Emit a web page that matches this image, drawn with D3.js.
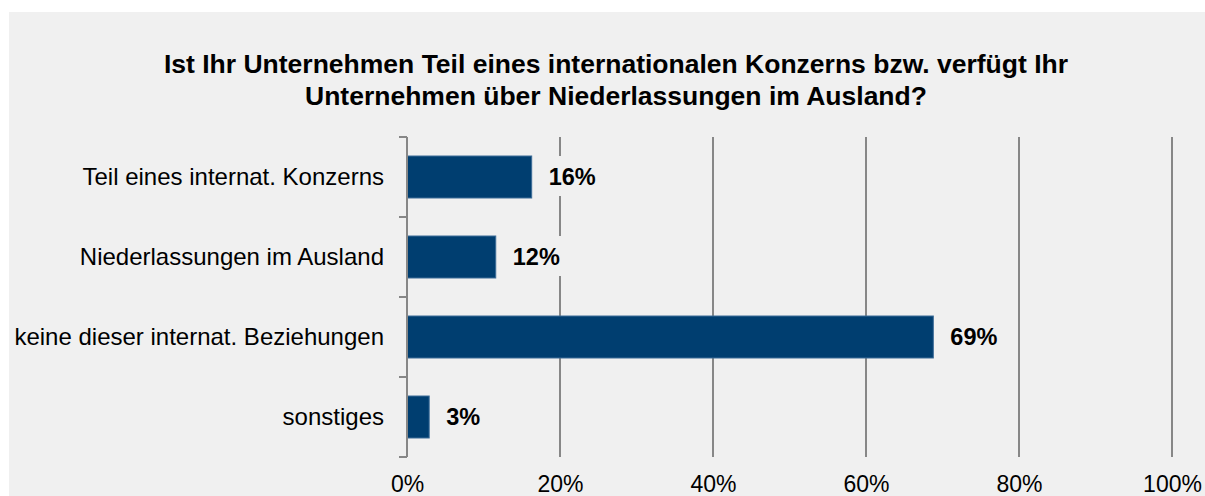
<!DOCTYPE html>
<html>
<head>
<meta charset="utf-8">
<script src="https://cdn.jsdelivr.net/npm/d3@7"></script>
<style>
  body { margin: 0; background: #ffffff; }
  text { font-family: "Liberation Sans", Arial, sans-serif; }
</style>
</head>
<body>
<div class="chart"></div>
<script>
var categories = ['Teil eines internat. Konzerns', 'Niederlassungen im Ausland', 'keine dieser internat. Beziehungen', 'sonstiges'];
var values = [16.3, 11.6, 68.8, 2.9];
var valueLabels = ['16%', '12%', '69%', '3%'];
var tickValues = [0, 20, 40, 60, 80, 100];
var tickLabels = ['0%', '20%', '40%', '60%', '80%', '100%'];
var titleLines = ['Ist Ihr Unternehmen Teil eines internationalen Konzerns bzw. verfügt Ihr', 'Unternehmen über Niederlassungen im Ausland?'];

// Width and height
var w = 1205;
var h = 496;
var plotLeft = 407, plotRight = 1172, plotTop = 137, plotBottom = 457;

var svg = d3.select(".chart")
  .append("svg")
    .attr("width", w)
    .attr("height", h);

// grey panel
svg.append("rect")
  .attr("x", 9)
  .attr("y", 12)
  .attr("width", w - 9)
  .attr("height", h - 12)
  .attr("fill", "#f0f0f0");

var xScale = d3.scaleLinear()
  .domain([0, 100])
  .range([plotLeft, plotRight]);

var yScale = d3.scaleBand()
  .domain(categories)
  .range([plotTop, plotBottom])
  .paddingInner(0.475)
  .paddingOuter(0.2375);

// title
svg.append("text")
  .attr("text-anchor", "middle")
  .attr("font-size", "26.5px")
  .attr("font-weight", "bold")
  .attr("fill", "#000")
  .selectAll("tspan")
  .data(titleLines)
  .enter()
  .append("tspan")
    .attr("x", 616)
    .attr("y", function (d, i) { return 73 + i * 32; })
    .text(function (d) { return d; });

// vertical gridlines
svg.append("g")
  .selectAll("line")
  .data(tickValues.slice(1))
  .enter()
  .append("line")
    .attr("x1", function (d) { return xScale(d); })
    .attr("x2", function (d) { return xScale(d); })
    .attr("y1", plotTop)
    .attr("y2", plotBottom)
    .attr("stroke", "#878787")
    .attr("stroke-width", 2);

// x tick labels
var xAxis = d3.axisBottom(xScale)
  .tickValues(tickValues)
  .tickFormat(function (d, i) { return tickLabels[i]; })
  .tickSize(0)
  .tickPadding(19);

var gx = svg.append("g")
  .attr("class", "axis axis--x")
  .attr("transform", "translate(0," + plotBottom + ")")
  .call(xAxis);
gx.select(".domain").remove();
gx.selectAll("text")
  .attr("font-family", "Liberation Sans, Arial, sans-serif")
  .attr("font-size", "23px")
  .attr("fill", "#000");

// bars
svg.append("g")
  .selectAll("rect")
  .data(values)
  .enter()
  .append("rect")
    .attr("x", xScale(0))
    .attr("y", function (d, i) { return yScale(categories[i]); })
    .attr("width", function (d) { return xScale(d) - xScale(0); })
    .attr("height", yScale.bandwidth())
    .attr("fill", "#003e70")
    .attr("stroke", "#3c6c98")
    .attr("stroke-width", 1);

// value labels with panel-coloured box
var labels = svg.append("g")
  .selectAll("g")
  .data(values)
  .enter()
  .append("g")
    .attr("transform", function (d, i) {
      return "translate(" + (xScale(d) + 17) + "," + (yScale(categories[i]) + yScale.bandwidth() / 2) + ")";
    });

labels.append("text")
  .attr("dy", "0.36em")
  .attr("font-size", "23.5px")
  .attr("font-weight", "bold")
  .attr("fill", "#000")
  .text(function (d, i) { return valueLabels[i]; });

labels.insert("rect", "text")
  .attr("x", -6)
  .attr("y", -21)
  .attr("height", 40)
  .attr("width", function () {
    return this.parentNode.querySelector("text").getComputedTextLength() + 12;
  })
  .attr("fill", "#f0f0f0");

// y axis, ticks sit on band borders
var yAxis = d3.axisLeft(yScale)
  .tickSize(0)
  .tickPadding(23);

var gy = svg.append("g")
  .attr("class", "axis axis--y")
  .attr("transform", "translate(" + plotLeft + ",0)")
  .call(yAxis);
gy.select(".domain").remove();
gy.selectAll("text")
  .attr("font-family", "Liberation Sans, Arial, sans-serif")
  .attr("font-size", "24px")
  .attr("fill", "#000");

var borders = categories.map(function (c) { return yScale(c) - yScale.step() * 0.2375; });
borders.push(plotBottom);

svg.append("line")
  .attr("x1", plotLeft)
  .attr("x2", plotLeft)
  .attr("y1", plotTop)
  .attr("y2", plotBottom)
  .attr("stroke", "#878787")
  .attr("stroke-width", 2);

svg.append("g")
  .selectAll("line")
  .data(borders)
  .enter()
  .append("line")
    .attr("x1", plotLeft - 8)
    .attr("x2", plotLeft)
    .attr("y1", function (d) { return d; })
    .attr("y2", function (d) { return d; })
    .attr("stroke", "#878787")
    .attr("stroke-width", 2);
</script>
</body>
</html>
